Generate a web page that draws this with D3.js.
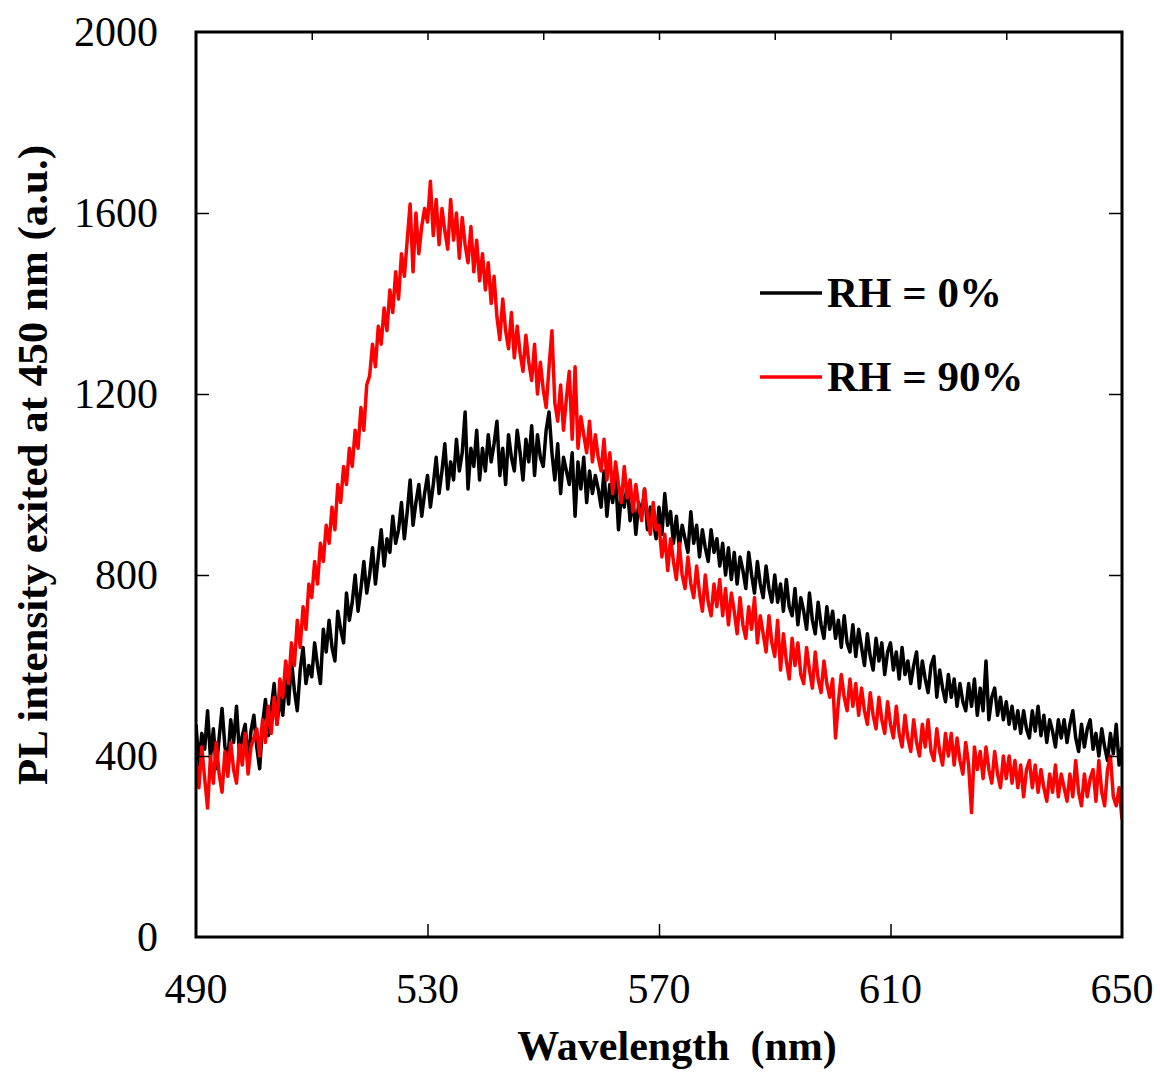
<!DOCTYPE html>
<html>
<head>
<meta charset="utf-8">
<script src="https://cdn.jsdelivr.net/npm/d3@7"></script>
<style>
  html, body { margin: 0; padding: 0; background: #fff; }
  svg { display: block; }
  text { font-family: "Liberation Serif", "Times New Roman", serif; fill: #000; }
</style>
</head>
<body>
<svg id="graph"></svg>
<script>
// wavelength grid (nm), one reading every 0.5 nm
const waveStart = 490
const waveStep = 0.5

// PL intensity, RH = 0 %  (490 .. 650 nm)
const rh0 = [
  470, 380, 450, 415, 500, 395, 460, 372, 440, 505, 420, 390, 480, 430, 510, 405, 445, 470, 385, 455,
  490, 420, 372, 470, 525, 445, 505, 560, 470, 530, 490, 575, 515, 610, 545, 500, 590, 640, 560, 600,
  575, 650, 600, 560, 680, 630, 700, 640, 610, 720, 680, 650, 760, 700, 740, 800, 720, 770, 830, 760,
  800, 860, 780, 840, 900, 820, 880, 850, 930, 870, 900, 960, 880, 940, 1010, 910, 960, 1000, 930, 980,
  1020, 950, 1000, 1060, 980, 1030, 1090, 990, 1050, 1010, 1100, 1030, 1070, 1160, 990, 1080, 1040, 1120, 1010, 1080,
  1030, 1110, 1050, 1090, 1140, 1020, 1080, 1000, 1110, 1060, 1030, 1120, 1070, 1010, 1100, 1050, 1130, 1020, 1110, 1060,
  1040, 1120, 1160, 1070, 1010, 1090, 980, 1060, 1030, 1000, 1070, 930, 1050, 990, 1060, 960, 1030, 980, 1020, 990,
  950, 1030, 930, 1000, 960, 1020, 900, 980, 950, 1000, 920, 970, 890, 960, 930, 990, 900, 950, 920, 880,
  950, 890, 980, 910, 940, 870, 930, 860, 910, 880, 850, 940, 870, 910, 840, 900, 860, 830, 900, 850,
  880, 820, 870, 800, 860, 790, 850, 780, 840, 810, 770, 850, 800, 760, 830, 780, 750, 820, 770, 740,
  800, 740, 780, 720, 790, 730, 710, 770, 690, 750, 720, 680, 760, 700, 670, 740, 690, 660, 730, 680,
  720, 660, 700, 640, 710, 650, 630, 690, 620, 680, 640, 600, 670, 620, 590, 660, 610, 650, 580, 630,
  650, 590, 630, 570, 640, 580, 610, 560, 600, 630, 550, 610, 570, 540, 600, 620, 530, 590, 550, 520,
  580, 530, 570, 510, 560, 520, 500, 560, 510, 570, 490, 550, 500, 610, 480, 530, 550, 490, 530, 480,
  520, 470, 510, 460, 500, 450, 500, 460, 440, 500, 455, 510, 445, 490, 430, 480, 455, 420, 480, 440,
  480, 430, 470, 500, 440, 410, 470, 420, 460, 480, 415, 450, 400, 460, 420, 390, 450, 405, 470, 380,
  420
]

// PL intensity, RH = 90 %
const rh90 = [
  390, 330, 420, 350, 285, 400, 340, 430, 360, 320, 410, 355, 430, 370, 340, 425, 380, 450, 360, 420,
  440, 460, 400, 480, 430, 510, 450, 530, 470, 570, 530, 610, 560, 650, 600, 700, 640, 730, 680, 780,
  750, 830, 780, 870, 830, 910, 870, 950, 900, 1000, 960, 1040, 1000, 1080, 1040, 1120, 1080, 1170, 1120, 1220,
  1240, 1310, 1260, 1350, 1310, 1390, 1340, 1430, 1380, 1470, 1410, 1510, 1460, 1540, 1620, 1470, 1600, 1510, 1570, 1610,
  1580, 1670, 1550, 1630, 1530, 1610, 1560, 1520, 1630, 1540, 1600, 1500, 1590, 1530, 1490, 1570, 1470, 1540, 1450, 1510,
  1430, 1490, 1400, 1460, 1370, 1320, 1410, 1340, 1300, 1380, 1280, 1350, 1290, 1250, 1330, 1270, 1230, 1310, 1200, 1270,
  1210, 1170, 1260, 1340, 1180, 1140, 1220, 1120, 1190, 1250, 1100, 1260, 1080, 1150, 1110, 1070, 1140, 1050, 1110, 1060,
  1030, 1100, 1010, 1070, 980, 1050, 1000, 960, 1040, 970, 1010, 940, 1000, 950, 920, 990, 930, 890, 960, 900,
  910, 840, 890, 810, 880, 830, 790, 870, 800, 770, 840, 780, 750, 820, 760, 720, 800, 740, 710, 780,
  730, 790, 710, 770, 690, 760, 720, 670, 750, 690, 660, 730, 680, 750, 650, 710, 670, 630, 710, 650,
  620, 700, 590, 670, 610, 570, 660, 600, 650, 580, 560, 640, 590, 550, 630, 570, 540, 610, 560, 530,
  570, 440, 520, 580, 530, 500, 570, 510, 560, 490, 550, 500, 470, 540, 490, 460, 530, 480, 450, 520,
  470, 440, 510, 450, 420, 490, 440, 410, 480, 430, 400, 470, 420, 480, 410, 390, 460, 410, 380, 450,
  400, 450, 380, 440, 390, 360, 430, 380, 275, 420, 370, 410, 350, 420, 370, 340, 410, 360, 330, 400,
  350, 400, 340, 390, 330, 380, 310, 370, 390, 330, 380, 320, 370, 330, 300, 360, 320, 380, 310, 360,
  330, 300, 360, 310, 390, 320, 290, 360, 310, 350, 370, 300, 390, 320, 290, 370, 400, 310, 290, 330,
  260
]

const xTicks = [490, 530, 570, 610, 650]
const xTopTicks = [510, 530, 550, 570, 590, 610, 630]
const yTicks = [0, 400, 800, 1200, 1600, 2000]

const seriesNames = ["RH = 0%", "RH = 90%"]
const seriesColors = ["#000000", "#ff0000"]

const svgDimensions = { width: 1160, height: 1074 }
const margin = { left: 196, right: 38, top: 32, bottom: 137 }
const chartDimensions = {
    width: svgDimensions.width - margin.left - margin.right,
    height: svgDimensions.height - margin.top - margin.bottom
}

const svg = d3.select("#graph")
    .attr("width", svgDimensions.width)
    .attr("height", svgDimensions.height)

const xScale = d3.scaleLinear().domain([490, 650]).range([0, chartDimensions.width])
const yScale = d3.scaleLinear().domain([0, 2000]).range([chartDimensions.height, 0])

const chartGroup = svg.append("g")
    .attr("transform", `translate(${margin.left}, ${margin.top})`)

chartGroup.append("clipPath").attr("id", "plotClip")
    .append("rect")
    .attr("width", chartDimensions.width)
    .attr("height", chartDimensions.height)

// spectra
const line = d3.line()
    .x((d, i) => xScale(waveStart + i * waveStep))
    .y(d => yScale(d))

;[rh0, rh90].forEach((series, k) => {
    chartGroup.append("path")
        .datum(series)
        .attr("clip-path", "url(#plotClip)")
        .attr("d", line)
        .attr("fill", "none")
        .attr("stroke", seriesColors[k])
        .attr("stroke-width", 3.5)
        .attr("stroke-linejoin", "round")
})

// axes, all ticks point into the frame
const tickFormat = d3.format("d")

const bottomAxis = d3.axisBottom(xScale).tickValues(xTicks.slice(1, -1)).tickSize(-13).tickFormat("")
const topAxis = d3.axisTop(xScale).tickValues(xTopTicks).tickSize(-8).tickFormat("")
const leftAxis = d3.axisLeft(yScale).tickValues(yTicks.slice(1, -1)).tickSize(-13).tickFormat("")
const rightAxis = d3.axisRight(yScale).tickValues(yTicks.slice(1, -1)).tickSize(-13).tickFormat("")

chartGroup.append("g").attr("transform", `translate(0, ${chartDimensions.height})`).call(bottomAxis)
chartGroup.append("g").call(topAxis)
chartGroup.append("g").call(leftAxis)
chartGroup.append("g").attr("transform", `translate(${chartDimensions.width}, 0)`).call(rightAxis)

chartGroup.selectAll(".domain").remove()
chartGroup.selectAll(".tick line").attr("stroke", "#000").attr("stroke-width", 1.5)

chartGroup.append("rect")
    .attr("width", chartDimensions.width)
    .attr("height", chartDimensions.height)
    .attr("fill", "none")
    .attr("stroke", "#000")
    .attr("stroke-width", 3)

// tick labels
chartGroup.selectAll(".xlabel")
    .data(xTicks)
    .enter()
    .append("text")
    .attr("x", d => xScale(d))
    .attr("y", chartDimensions.height + 66)
    .attr("text-anchor", "middle")
    .style("font-size", "42px")
    .text(tickFormat)

chartGroup.selectAll(".ylabel")
    .data(yTicks)
    .enter()
    .append("text")
    .attr("x", -38)
    .attr("y", d => yScale(d))
    .attr("dy", "0.33em")
    .attr("text-anchor", "end")
    .style("font-size", "42px")
    .text(tickFormat)

// axis titles
svg.append("text")
    .attr("x", 677)
    .attr("y", 1060)
    .attr("text-anchor", "middle")
    .style("font-size", "42px")
    .style("font-weight", "bold")
    .style("white-space", "pre")
    .text("Wavelength  (nm)")

svg.append("text")
    .attr("transform", "translate(47, 465) rotate(-90)")
    .attr("text-anchor", "middle")
    .style("font-size", "43px")
    .style("font-weight", "bold")
    .text("PL intensity exited at 450 nm (a.u.)")

// legend
const legend = svg.append("g")
seriesNames.forEach((name, k) => {
    const ly = 293 + k * 84
    legend.append("line")
        .attr("x1", 760).attr("x2", 822)
        .attr("y1", ly).attr("y2", ly)
        .attr("stroke", seriesColors[k])
        .attr("stroke-width", 3.5)
    legend.append("text")
        .attr("x", 827)
        .attr("y", ly + 14)
        .style("font-size", "43px")
        .style("font-weight", "bold")
        .text(name)
})
</script>
</body>
</html>
